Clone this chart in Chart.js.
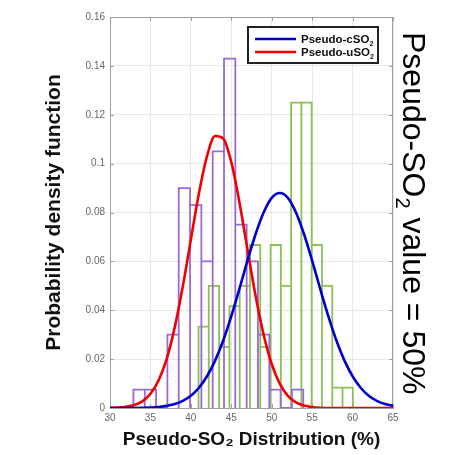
<!DOCTYPE html>
<html>
<head>
<meta charset="utf-8">
<script src="https://cdn.jsdelivr.net/npm/chart.js@4/dist/chart.umd.min.js"></script>
<style>
  html, body { margin: 0; padding: 0; background: #fff; }
</style>
</head>
<body>
<canvas id="myChart" width="463" height="455"></canvas>
<script>
// histogram of pseudo-uSO2 (purple): bin edges and densities
const uEdges = [32.9, 34.3, 35.7, 37.1, 38.5, 39.9, 41.3, 42.7, 44.1, 45.5, 46.9, 48.3, 49.7, 51.1, 52.5, 53.9];
const uDensity = [0.0075, 0.0075, 0, 0.03, 0.09, 0.083, 0.06, 0.105, 0.143, 0.075, 0.06, 0.03, 0.0075, 0, 0.0075];

// histogram of pseudo-cSO2 (green)
const cEdges = [40.95, 42.22, 43.5, 44.77, 46.04, 47.31, 48.58, 49.86, 51.13, 52.4, 53.67, 54.94, 56.22, 57.49, 58.76, 60.03];
const cDensity = [0.0333, 0.05, 0.025, 0.0417, 0.05, 0.0667, 0.025, 0.0667, 0.05, 0.125, 0.125, 0.0667, 0.05, 0.0083, 0.0083];

// fitted curves, read every 1 %
const curveX = [30, 31, 32, 33, 34, 35, 36, 37, 38, 39, 40, 41, 42, 43, 44, 45, 46, 47,
                48, 49, 50, 51, 52, 53, 54, 55, 56, 57, 58, 59, 60, 61, 62, 63, 64, 65];
const uFit = [0.0001, 0.0002, 0.0005, 0.0012, 0.0027, 0.0058, 0.0112, 0.020, 0.0329, 0.0497, 0.0689, 0.0879,
              0.1031, 0.1113, 0.1103, 0.1006, 0.0843, 0.065, 0.046, 0.030, 0.018, 0.0099, 0.005, 0.0023,
              0.001, 0.0004, 0.0001, 0, 0, 0, 0, 0, 0, 0, 0, 0];
const cFit = [0, 0, 0, 0, 0.0001, 0.0002, 0.0004, 0.0009, 0.0016, 0.0029, 0.005, 0.0083,
              0.013, 0.0194, 0.0276, 0.0376, 0.0487, 0.0603, 0.0711, 0.080, 0.086, 0.088, 0.086, 0.080,
              0.0711, 0.0603, 0.0487, 0.0376, 0.0276, 0.0194, 0.013, 0.0083, 0.005, 0.0029, 0.0016, 0.0009];

const legendLabels = ['Pseudo-cSO\u2082', 'Pseudo-uSO\u2082'];
const sideText = 'Pseudo-SO\u2082 value = 50%';

const FONT = '"Liberation Sans", Arial, sans-serif';

// each bin as its own rectangle outline
function outline(edges, dens) {
  const pts = [];
  for (let i = 0; i < dens.length; i++) {
    pts.push({x: edges[i], y: 0}, {x: edges[i], y: dens[i]},
             {x: edges[i + 1], y: dens[i]}, {x: edges[i + 1], y: 0});
  }
  return pts;
}

// draws text, turning the subscript two into a small lowered 2
function drawSub(ctx, text, x, y, size, weight) {
  const parts = text.split('\u2082');
  let cx = x;
  parts.forEach((p, i) => {
    ctx.font = weight + ' ' + size + 'px ' + FONT;
    ctx.fillText(p, cx, y);
    cx += ctx.measureText(p).width;
    if (i < parts.length - 1) {
      ctx.font = weight + ' ' + Math.round(size * 0.62) + 'px ' + FONT;
      ctx.fillText('2', cx, y + size * 0.22);
      cx += ctx.measureText('2').width;
    }
  });
}

const boxPlugin = {
  id: 'boxPlugin',
  beforeDatasetsDraw(chart) {
    const ctx = chart.ctx, a = chart.chartArea;
    ctx.save();
    ctx.strokeStyle = '#a0a0a0';
    ctx.lineWidth = 1;
    ctx.strokeRect(a.left + 0.5, a.top + 0.5, a.right - a.left - 1, a.bottom - a.top);
    // small inward ticks like the original
    chart.scales.x.ticks.forEach(t => {
      const px = Math.round(chart.scales.x.getPixelForValue(t.value)) + 0.5;
      ctx.beginPath();
      ctx.moveTo(px, a.top); ctx.lineTo(px, a.top + 4);
      ctx.moveTo(px, a.bottom); ctx.lineTo(px, a.bottom - 4);
      ctx.stroke();
    });
    chart.scales.y.ticks.forEach(t => {
      const py = Math.round(chart.scales.y.getPixelForValue(t.value)) + 0.5;
      ctx.beginPath();
      ctx.moveTo(a.left, py); ctx.lineTo(a.left + 4, py);
      ctx.moveTo(a.right, py); ctx.lineTo(a.right - 4, py);
      ctx.stroke();
    });
    ctx.restore();
  },
  afterDatasetsDraw(chart) {
    const ctx = chart.ctx, a = chart.chartArea;
    const items = chart.data.datasets.filter(d => d.inLegend);
    const w = 130, h = 36;
    const x0 = a.right - w - 15, y0 = a.top + 10;
    ctx.save();
    ctx.fillStyle = '#fff';
    ctx.fillRect(x0, y0, w, h);
    ctx.strokeStyle = '#222';
    ctx.lineWidth = 2;
    ctx.strokeRect(x0, y0, w, h);
    items.forEach((d, i) => {
      const y = y0 + 12 + i * 13;
      ctx.strokeStyle = d.borderColor;
      ctx.lineWidth = 2.5;
      ctx.beginPath();
      ctx.moveTo(x0 + 7, y);
      ctx.lineTo(x0 + 48, y);
      ctx.stroke();
      ctx.fillStyle = '#111';
      ctx.textBaseline = 'alphabetic';
      drawSub(ctx, d.label, x0 + 53, y + 4, 11.5, 'bold');
    });
    ctx.restore();
  },
  afterDraw(chart) {
    const ctx = chart.ctx;
    ctx.save();
    ctx.translate(403, 32);
    ctx.rotate(Math.PI / 2);
    ctx.fillStyle = '#000';
    ctx.textBaseline = 'alphabetic';
    drawSub(ctx, sideText, 0, 0, 32, 'normal');
    ctx.restore();
  }
};

const data = {
  datasets: [
    {
      label: legendLabels[0],
      inLegend: true,
      data: curveX.map((x, i) => ({x: x, y: cFit[i]})),
      borderColor: 'rgb(0, 0, 205)',
      borderWidth: 2.6,
      cubicInterpolationMode: 'monotone',
      showLine: true,
      pointRadius: 0,
      order: 0
    },
    {
      label: legendLabels[1],
      inLegend: true,
      data: curveX.map((x, i) => ({x: x, y: uFit[i]})),
      borderColor: 'rgb(240, 0, 0)',
      borderWidth: 2.6,
      cubicInterpolationMode: 'monotone',
      showLine: true,
      pointRadius: 0,
      order: 0
    },
    {
      label: 'uSO2 histogram',
      data: outline(uEdges, uDensity),
      borderColor: 'rgb(155, 105, 215)',
      borderWidth: 1.8,
      borderJoinStyle: 'miter',
      showLine: true,
      tension: 0,
      pointRadius: 0,
      order: 1
    },
    {
      label: 'cSO2 histogram',
      data: outline(cEdges, cDensity),
      borderColor: 'rgb(140, 192, 85)',
      borderWidth: 1.8,
      borderJoinStyle: 'miter',
      showLine: true,
      tension: 0,
      pointRadius: 0,
      order: 2
    }
  ]
};

const config = {
  type: 'scatter',
  data: data,
  options: {
    responsive: false,
    animation: false,
    layout: { padding: { left: 0, right: 70, top: 17, bottom: 2 } },
    plugins: {
      legend: { display: false },
      tooltip: { enabled: false }
    },
    scales: {
      x: {
        type: 'linear',
        min: 30,
        max: 65,
        ticks: {
          stepSize: 5,
          padding: 4,
          color: '#666',
          font: { size: 10, family: FONT }
        },
        grid: { color: '#e8e8e8', drawTicks: false },
        border: { color: '#a0a0a0' },
        title: {
          display: true,
          text: 'Pseudo-SO\u2082 Distribution (%)',
          color: '#111',
          font: { size: 19, weight: 'bold', family: FONT },
          padding: { top: 0, bottom: 2 }
        },
        afterFit: function(scale) { scale.height = 45; }
      },
      y: {
        min: 0,
        max: 0.16,
        ticks: {
          stepSize: 0.02,
          padding: 5,
          color: '#666',
          font: { size: 10, family: FONT },
          callback: function(v) { return String(+v.toFixed(2)); }
        },
        grid: { color: '#e8e8e8', drawTicks: false },
        border: { color: '#a0a0a0' },
        title: {
          display: true,
          text: 'Probability density function',
          color: '#111',
          font: { size: 21, weight: 'bold', family: FONT },
          padding: { top: 42, bottom: 0 }
        },
        afterFit: function(scale) { scale.width = 110; }
      }
    }
  },
  plugins: [boxPlugin]
};

const myChart = new Chart(document.getElementById('myChart'), config);
</script>
</body>
</html>
